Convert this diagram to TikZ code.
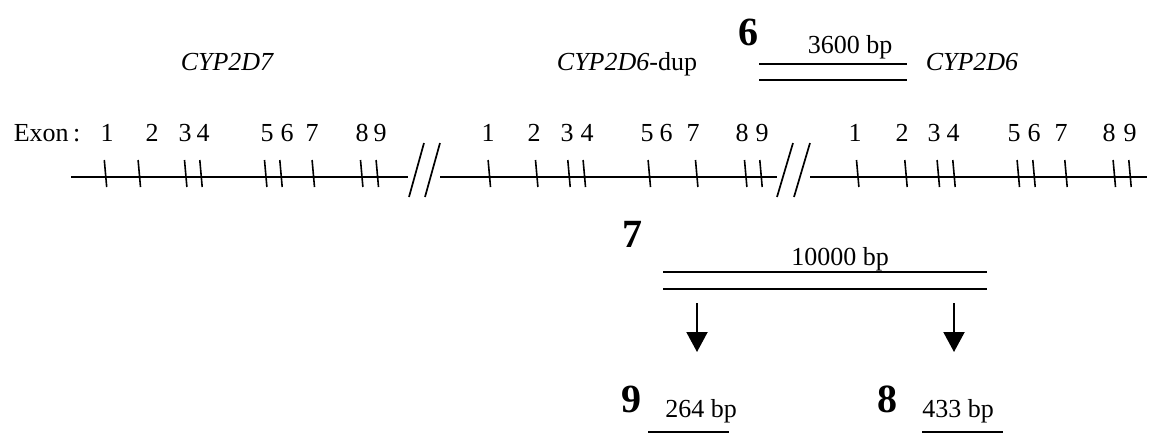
\documentclass[tikz,border=0pt]{standalone}
\usepackage{fontspec}
\setmainfont{Liberation Serif}
\usetikzlibrary{arrows.meta,positioning}

\begin{document}
\begin{tikzpicture}[x=0.5pt, y=-0.5pt, line width=0.85pt,
  lbl/.style={font=\fontsize{13}{15}\selectfont, inner sep=0pt, anchor=base},
  gene/.style={lbl, font=\fontsize{13}{15}\selectfont\itshape},
  big/.style={font=\fontsize{20}{22}\selectfont\bfseries, inner sep=0pt, anchor=base},
  exontick/.style={line width=0.8pt},
  fragline/.style={line width=1pt},
  down/.style={-{Triangle[width=10.5pt,length=10pt]}, line width=1pt}]

\useasboundingbox (0,0) rectangle (1152,446);

% Gene names
\node[gene] (d7) at (227,70) {CYP2D7};
\node[lbl] (d6dup) at (627,70) {\textit{CYP2D6}-dup};
\node[gene] (d6) at (972,70) {CYP2D6};

% Exon numbers
\node[lbl, anchor=base west] (exon) at (13,141) {Exon\,:};
\foreach \x/\n in {107/1,152/2,185/3,203/4,267/5,287/6,312/7,362/8,380/9}
    \node[lbl] (a\n) at (\x,141) {\n};
\foreach \x/\n in {488/1,534/2,567/3,587/4,647/5,666/6,693/7,742/8,762/9}
    \node[lbl] (b\n) at (\x,141) {\n};
\foreach \x/\n in {855/1,902/2,934/3,953/4,1014/5,1034/6,1061/7,1109/8,1130/9}
    \node[lbl] (c\n) at (\x,141) {\n};

% Backbone with breaks
\coordinate (s1a) at (71,177);  \coordinate (s1b) at (408,177);
\coordinate (s2a) at (440,177); \coordinate (s2b) at (777,177);
\coordinate (s3a) at (810,177); \coordinate (s3b) at (1147,177);
\draw (s1a) -- (s1b);
\draw (s2a) -- (s2b);
\draw (s3a) -- (s3b);
\draw (409,197) -- (424,143);
\draw (425,197) -- (440,143);
\draw (777,197) -- (793,143);
\draw (794,197) -- (810,143);

% Exon ticks
\foreach \x in {105.5,139.3,185.7,201,265.7,281,313.3,361.7,377.3,
                489.3,536.7,569,584.3,649.3,696.7,745.7,761,
                857.7,906,938.3,954,1018.3,1034,1066,1114.3,1130}
    \draw[exontick] (\x-1.2,160) -- (\x+1.2,187);

% Fragment 6
\node[big] (f6) at (748,45) {6};
\node[lbl] (bp3600) at (850,53) {3600 bp};
\draw[fragline] (759,64) -- (907,64);
\draw[fragline] (759,80) -- (907,80);

% Fragment 7
\node[big] (f7) at (632,247) {7};
\node[lbl] (bp10000) at (840,265) {10000 bp};
\draw[fragline] (663,272) -- (987,272);
\draw[fragline] (663,289) -- (987,289);

% Digestion arrows
\coordinate (ar1) at (697,303); \coordinate (ah1) at (697,352);
\coordinate (ar2) at (954,303); \coordinate (ah2) at (954,352);
\draw[down] (ar1) -- (ah1);
\draw[down] (ar2) -- (ah2);

% Fragments 9 and 8
\node[big] (f9) at (631,412) {9};
\node[lbl] (bp264) at (701,417) {264 bp};
\draw[fragline] (648,432) -- (729,432);
\node[big] (f8) at (887,412) {8};
\node[lbl] (bp433) at (958,417) {433 bp};
\draw[fragline] (922,432) -- (1003,432);
\end{tikzpicture}
\end{document}
